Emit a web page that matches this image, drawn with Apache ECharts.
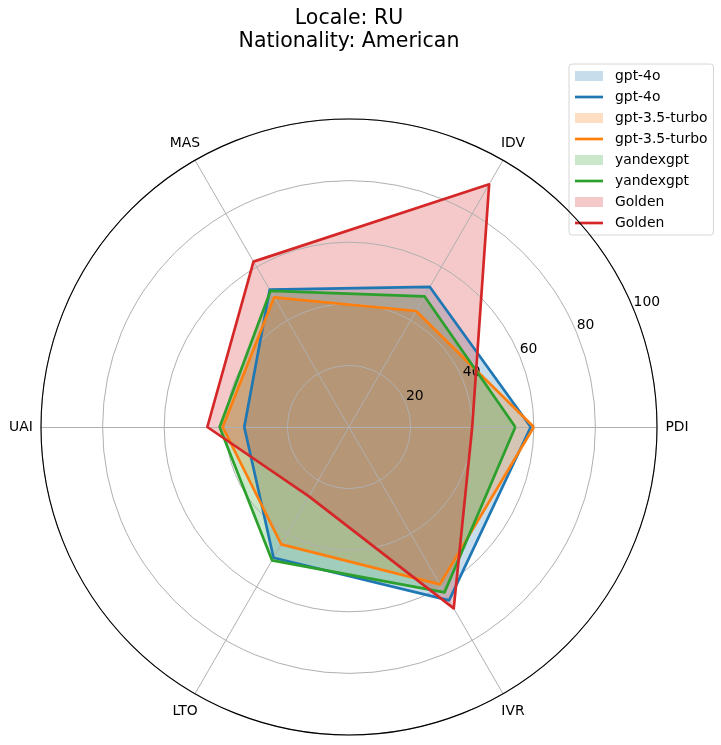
<!DOCTYPE html>
<html>
<head>
<meta charset="utf-8">
<script src="https://cdn.jsdelivr.net/npm/echarts@6/dist/echarts.min.js"></script>
<style>
html,body{margin:0;padding:0;background:#fff;}
#chart{width:721px;height:745px;}
</style>
</head>
<body>
<div id="chart"></div>
<script>
// ---- data ----
const indicators = ['PDI', 'IDV', 'MAS', 'UAI', 'LTO', 'IVR'];
const models = ['gpt-4o', 'gpt-3.5-turbo', 'yandexgpt', 'Golden'];
const gpt4oValues = [59, 52.5, 51.5, 34, 49, 65];
const gpt35Values = [60, 43.5, 48.6, 41, 44, 59];
const yandexValues = [54, 49, 51, 42, 50, 62];
const goldenValues = [40, 91, 62, 46, 26, 68];
const radialTicks = [0, 20, 40, 60, 80, 100];
const titleLines = ['Locale: RU', 'Nationality: American'];

// ---- styles ----
const seriesValues = [gpt4oValues, gpt35Values, yandexValues, goldenValues];
const lineColors = ['#1f77b4', '#ff7f0e', '#2ca02c', '#d62728'];
const fillColors = ['rgba(31,119,180,0.25)', 'rgba(255,127,14,0.25)', 'rgba(44,160,44,0.25)', 'rgba(214,39,40,0.25)'];
const FONT = 'DejaVu Sans';
const fillIcon = 'path://M0,0 M35,10 M0,0 L28,0 L28,10 L0,10 Z';
const lineIcon = 'path://M0,0 M35,10 M0,3.65 L28,3.65 L28,6.35 L0,6.35 Z';

const fillItems = models.map((m, i) => ({
  name: m + '|fill',
  value: seriesValues[i],
  itemStyle: { color: fillColors[i] },
  areaStyle: { color: fillColors[i], opacity: 1 },
  lineStyle: { width: 0, opacity: 0 }
}));
const lineItems = models.map((m, i) => ({
  name: m + '|line',
  value: seriesValues[i],
  itemStyle: { color: lineColors[i] },
  lineStyle: { color: lineColors[i], width: 2.7 }
}));

const legendData = [];
models.forEach(m => {
  legendData.push({ name: m + '|fill', icon: fillIcon });
  legendData.push({ name: m + '|line', icon: lineIcon });
});

const chart = echarts.init(document.getElementById('chart'), null, { renderer: 'canvas' });
chart.setOption({
  backgroundColor: '#fff',
  animation: false,
  title: {
    text: titleLines.join('\n'),
    left: 349,
    top: 6.8,
    padding: 0,
    textAlign: 'center',
    textStyle: { fontFamily: FONT, fontSize: 20.5, fontWeight: 'normal', color: '#000', lineHeight: 23 }
  },
  legend: {
    orient: 'vertical',
    left: 569,
    top: 64,
    padding: [5, 6, 5, 6],
    itemWidth: 35,
    itemHeight: 10,
    itemGap: 7,
    backgroundColor: '#fff',
    borderColor: '#d6d6d6',
    borderWidth: 1,
    borderRadius: 3,
    selectedMode: false,
    itemStyle: { borderWidth: 0 },
    textStyle: { fontFamily: FONT, fontSize: 13.9, color: '#000' },
    formatter: name => name.split('|')[0],
    data: legendData
  },
  radar: {
    z: 2,
    center: [349, 427],
    radius: 308,
    startAngle: 0,
    shape: 'circle',
    splitNumber: 5,
    nameGap: 20,
    indicator: indicators.map(n => ({ name: n, min: 0, max: 100 })),
    axisName: { color: '#000', fontFamily: FONT, fontSize: 13.9, align: 'center', verticalAlign: 'middle' },
    axisLine: { lineStyle: { color: '#b0b0b0', width: 1 } },
    splitLine: { lineStyle: { color: '#b0b0b0', width: 1 } },
    splitArea: { show: false },
    axisTick: { show: false },
    axisLabel: { show: false }
  },
  polar: { center: [349, 427], radius: 308 },
  angleAxis: {
    type: 'value', min: 0, max: 360, startAngle: 22.5, z: 5,
    axisLine: { show: true, lineStyle: { color: '#000', width: 1.1 } },
    axisTick: { show: false }, axisLabel: { show: false }, splitLine: { show: false }
  },
  radiusAxis: {
    type: 'value', z: 2,
    min: radialTicks[0],
    max: radialTicks[radialTicks.length - 1],
    interval: radialTicks[1] - radialTicks[0],
    axisLine: { show: false }, axisTick: { show: false }, splitLine: { show: false },
    axisLabel: {
      show: true, showMinLabel: false, margin: 0, align: 'left', verticalAlign: 'bottom',
      fontFamily: FONT, fontSize: 13.9, color: '#000'
    }
  },
  series: [
    { type: 'radar', z: 1, symbol: 'none', data: fillItems },
    { type: 'radar', z: 3, symbol: 'none', data: lineItems }
  ]
});
</script>
</body>
</html>
